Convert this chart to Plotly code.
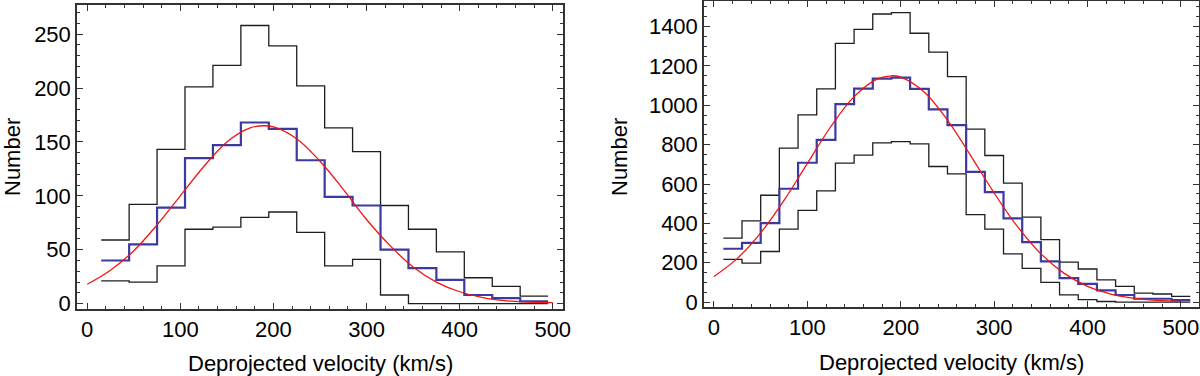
import plotly.graph_objects as go

# ---------------- data: left panel ----------------
left_edges = [15, 45, 75, 105, 135, 165, 195, 225, 255, 285, 315, 345, 375, 405, 435, 465, 495]
left_upper = [59, 92, 143, 201, 221, 258, 239, 202, 163, 141, 91, 69, 48, 24, 16, 7]
left_mid = [40, 55, 89, 135, 147, 168, 162, 133, 99, 91, 50, 33, 22, 8, 5, 2]
left_lower = [21, 20, 35, 69, 71, 80, 85, 66, 35, 41, 8, 0, 0, 0, 0, 0]
left_fit_x = [0, 25, 50, 75, 100, 125, 150, 175, 190, 200, 225, 250, 275, 300, 325, 350, 375, 400, 425, 450, 475, 500]
left_fit_y = [18, 31, 49, 73, 100, 127, 150, 163, 165, 164, 153, 132, 106, 78, 54, 34, 20, 11, 5.5, 2.6, 1.5, 1.0]

# ---------------- data: right panel ----------------
right_edges = [10, 30, 50, 70, 90, 110, 130, 150, 170, 190, 210, 230, 250, 270, 290,
               310, 330, 350, 370, 390, 410, 430, 450, 470, 490, 510]
right_upper = [325, 413, 543, 782, 951, 1083, 1315, 1386, 1464, 1471, 1366, 1270, 1146,
               879, 745, 604, 432, 317, 203, 168, 113, 80, 46, 41, 29]
right_mid = [271, 301, 401, 576, 708, 824, 1006, 1085, 1136, 1141, 1083, 979, 899,
             662, 559, 425, 305, 207, 122, 93, 59, 36, 17, 17, 10]
right_lower = [217, 198, 257, 371, 466, 565, 706, 747, 809, 815, 804, 689, 652,
               444, 371, 245, 171, 100, 37, 12, 3, 0, 0, 0, 0]
right_fit_x = [0, 25, 50, 75, 100, 125, 150, 175, 190, 200, 225, 250, 275, 300, 325, 350, 375, 400, 425, 450, 475, 500]
right_fit_y = [130, 222, 352, 517, 705, 891, 1044, 1134, 1150, 1143, 1068, 925, 743, 554, 383, 245, 146, 80, 41, 19, 8.5, 3.5]

x_title = "Deprojected velocity (km/s)"
y_title = "Number"

BLACK = "#1e1e1e"
BLUE = "rgb(58,58,160)"
RED = "rgb(240,20,20)"
FRAME = "#333333"
FONT = "Liberation Sans, Arial, sans-serif"


def step(edges, vals):
    return list(edges), list(vals) + [vals[-1]]


fig = go.Figure()

panels = [
    ("x", "y", left_edges, left_upper, left_mid, left_lower, left_fit_x, left_fit_y),
    ("x2", "y2", right_edges, right_upper, right_mid, right_lower, right_fit_x, right_fit_y),
]
for xa, ya, edges, up, mid, low, fx, fy in panels:
    for vals, col, w in [(up, BLACK, 1.3), (low, BLACK, 1.3), (mid, BLUE, 2.2)]:
        sx, sy = step(edges, vals)
        fig.add_trace(go.Scatter(x=sx, y=sy, mode="lines", line=dict(color=col, width=w, shape="hv"),
                                 xaxis=xa, yaxis=ya, showlegend=False, hoverinfo="skip"))
    fig.add_trace(go.Scatter(x=fx, y=fy, mode="lines", line=dict(color=RED, width=1.3, shape="spline"),
                             xaxis=xa, yaxis=ya, showlegend=False, hoverinfo="skip"))

W, H = 1200, 376


def px_x(p):
    return p / W


def px_y(p):
    return 1 - p / H


axis_common = dict(
    showgrid=False, zeroline=False, showline=True, linecolor=FRAME, linewidth=1.5,
    mirror="allticks", ticks="inside", ticklen=6, tickwidth=1.2, tickcolor=FRAME,
    tickfont=dict(family=FONT, size=22, color="black"), automargin=False,
)

fig.update_layout(
    width=W, height=H, autosize=False,
    margin=dict(l=0, r=0, t=0, b=0, pad=0, autoexpand=False),
    paper_bgcolor="white", plot_bgcolor="white",
    xaxis=dict(domain=[px_x(77), px_x(563)], range=[-11, 511], dtick=100, tick0=0,
               minor=dict(dtick=20, tick0=0, ticks="inside", ticklen=3, tickcolor=FRAME, showgrid=False),
               anchor="y", **axis_common),
    yaxis=dict(domain=[px_y(309), px_y(5)], range=[-5, 277], dtick=50, tick0=0,
               minor=dict(dtick=10, tick0=0, ticks="inside", ticklen=3, tickcolor=FRAME, showgrid=False),
               anchor="x", **axis_common),
    xaxis2=dict(domain=[px_x(704), px_x(1199)], range=[-10.7, 519.3], dtick=100, tick0=0,
                minor=dict(dtick=20, tick0=0, ticks="inside", ticklen=3, tickcolor=FRAME, showgrid=False),
                anchor="y2", **axis_common),
    yaxis2=dict(domain=[px_y(307), px_y(1)], range=[-25, 1530], dtick=200, tick0=0,
                minor=dict(dtick=50, tick0=0, ticks="inside", ticklen=3, tickcolor=FRAME, showgrid=False),
                anchor="x2", **axis_common),
)

title_font = dict(family=FONT, size=22, color="black")
fig.add_annotation(text=y_title, xref="paper", yref="paper", x=px_x(12), y=px_y(157),
                   textangle=-90, showarrow=False, font=title_font, xanchor="center", yanchor="middle")
fig.add_annotation(text=y_title, xref="paper", yref="paper", x=px_x(619), y=px_y(157),
                   textangle=-90, showarrow=False, font=title_font, xanchor="center", yanchor="middle")
fig.add_annotation(text=x_title, xref="paper", yref="paper", x=px_x(320), y=px_y(363),
                   showarrow=False, font=title_font, xanchor="center", yanchor="middle")
fig.add_annotation(text=x_title, xref="paper", yref="paper", x=px_x(951.5), y=px_y(362),
                   showarrow=False, font=title_font, xanchor="center", yanchor="middle")

fig.write_html("out.html", config={"displayModeBar": False},
               post_script="document.body.style.margin='0';document.body.style.overflow='hidden';")
